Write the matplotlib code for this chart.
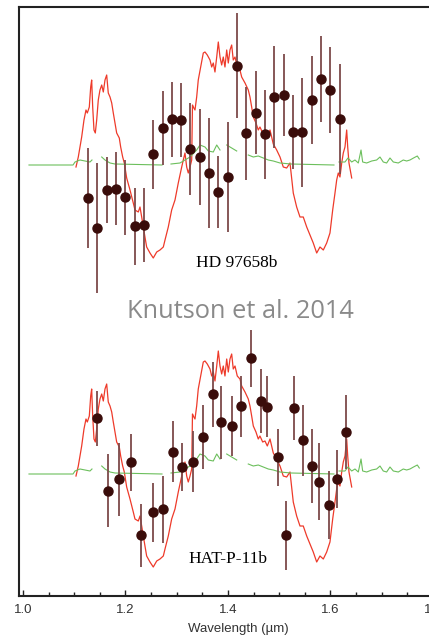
import numpy as np
import matplotlib
matplotlib.use("Agg")
import matplotlib.pyplot as plt
from matplotlib.ticker import MultipleLocator

# Model transmission spectrum (relative depth, arbitrary units) shared by both planets
model_wl = [1.1034, 1.1079, 1.1145, 1.1190, 1.1229, 1.1255, 1.1294, 1.1321, 1.1340, 1.1360,
            1.1385, 1.1411, 1.1438, 1.1469, 1.1502, 1.1536, 1.1567, 1.1600, 1.1633, 1.1664,
            1.1698, 1.1731, 1.1762, 1.1795, 1.1828, 1.1879, 1.1906, 1.1945, 1.1977, 1.2023,
            1.2088, 1.2152, 1.2185, 1.2250, 1.2283, 1.2316, 1.2380, 1.2413, 1.2478, 1.2542,
            1.2609, 1.2673, 1.2738, 1.2771, 1.2835, 1.2901, 1.2966, 1.3030, 1.3097, 1.3128,
            1.3161, 1.3194, 1.3225, 1.3259, 1.3292, 1.3307, 1.3323, 1.3356, 1.3389, 1.3420,
            1.3467, 1.3518, 1.3551, 1.3596, 1.3649, 1.3682, 1.3713, 1.3746, 1.3780, 1.3811,
            1.3844, 1.3877, 1.3908, 1.3941, 1.3975, 1.4006, 1.4039, 1.4072, 1.4103, 1.4137,
            1.4181, 1.4234, 1.4267, 1.4332, 1.4396, 1.4429, 1.4462, 1.4494, 1.4546, 1.4591,
            1.4624, 1.4677, 1.4722, 1.4767, 1.4820, 1.4884, 1.4950, 1.5015, 1.5079, 1.5145,
            1.5210, 1.5274, 1.5340, 1.5405, 1.5469, 1.5536, 1.5600, 1.5664, 1.5731, 1.5795,
            1.5860, 1.5926, 1.5990, 1.6043, 1.6088, 1.6121, 1.6152, 1.6185, 1.6219, 1.6250,
            1.6283, 1.6316, 1.6336, 1.6361, 1.6414]
model_depth = [-2, 8, 28, 45, 55, 52, 58, 78, 85, 58,
               35, 32, 45, 65, 75, 80, 73, 85, 90, 72,
               68, 62, 52, 42, 32, 27, 18, 8, 2, -13,
               -25, -38, -45, -47, -42, -52, -72, -82, -88, -93,
               -87, -85, -82, -75, -62, -45, -35, -18, -2, 5,
               12, -2, -8, -2, 5, 60, 58, 55, 68, 85,
               98, 112, 113, 110, 105, 98, 102, 93, 108, 123,
               108, 100, 108, 98, 115, 102, 115, 120, 105, 108,
               98, 95, 88, 82, 75, 68, 58, 48, 42, 35,
               38, 32, 33, 28, 35, 21, 15, 8, -2, -3,
               2, -28, -42, -52, -52, -62, -70, -78, -88, -82,
               -85, -78, -68, -45, -28, -15, -8, -12, 2, 12,
               18, 35, 18, 2, -13]

# Stellar reference spectrum (gaps where the trace breaks)
star_wl = [1.0117, 1.0976, 1.1015, 1.1112, 1.1210, 1.1307, 1.1346, 1.1370,
           1.1536, 1.1600, 1.1698, 1.1795, 1.2712, 1.2800,
           1.2888, 1.3063, 1.3161, 1.3259, 1.3389, 1.3454, 1.3551, 1.3616, 1.3713,
           1.3780, 1.3844, 1.3900,
           1.3975, 1.4072, 1.4170, 1.4280,
           1.4396, 1.4494, 1.4591, 1.4689, 1.4786, 1.4884, 1.5015, 1.5229, 1.6068, 1.6120,
           1.6166, 1.6283, 1.6341, 1.6414, 1.6478, 1.6543, 1.6596, 1.6628, 1.6706,
           1.6804, 1.6901, 1.6966, 1.7030, 1.7096, 1.7161, 1.7226, 1.7323, 1.7420,
           1.7486, 1.7551, 1.7620, 1.7694, 1.7733]
star_depth = [0, 0, 3, 5, 4, 3, 5, np.nan,
              8, 5, 2, 1, 0, np.nan,
              1, 2, 5, 8, 15, 20, 18, 14, 13,
              20, 15, np.nan,
              20, 17, 14, np.nan,
              10, 8, 9, 7, 5, 4, 2, 1, 0, np.nan,
              3, 3, 7, 3, 5, 2, 15, 3, 2,
              4, 5, 8, 3, 2, 7, 3, 2, 5,
              4, 5, 7, 9, 6]

# HD 97658b measured spectrum
hd_wl = [1.1274, 1.1450, 1.1633, 1.1815, 1.1996, 1.2180, 1.2360, 1.2530, 1.2730, 1.2910,
         1.3090, 1.3260, 1.3450, 1.3630, 1.3810, 1.4000, 1.4180, 1.4360, 1.4540, 1.4720,
         1.4900, 1.5090, 1.5270, 1.5450, 1.5630, 1.5810, 1.6000, 1.6185]
hd_depth = [-32.7, -63, -25, -23.7, -32.3, -61, -60, 10.7, 36.7, 45.7,
            45, 15.7, 8.3, -8.3, -27.3, -11.7, 99.3, 31.7, 52.3, 30.7,
            68.3, 70, 33.3, 32.7, 65, 85.7, 75, 46]
hd_err = [50, 65, 33, 36.5, 37.5, 38.5, 37, 34.5, 37, 37.5,
          37, 46, 48, 55, 36, 55, 52.5, 46.5, 41.5, 44.5,
          51, 41, 37, 54.5, 44, 43, 43, 55]

# HAT-P-11b measured spectrum
hat_wl = [1.1438, 1.1664, 1.1873, 1.2101, 1.2308, 1.2531, 1.2726, 1.2921, 1.3097, 1.3323,
          1.3512, 1.3717, 1.3869, 1.4084, 1.4248, 1.4455, 1.4638, 1.4767, 1.4976, 1.5126,
          1.5288, 1.5463, 1.5633, 1.5782, 1.5971, 1.6121, 1.6297]
hat_depth = [55.7, -16.7, -5.3, 11.7, -61, -38.3, -35.3, 22.3, 6.7, 12.3,
             36.7, 80, 51.7, 48, 68, 115.7, 73.3, 67.3, 16.7, -61,
             65.7, 34, 8.3, -7.7, -31, -5, 41.7]
hat_err = [27.5, 36.5, 36.5, 28.5, 31.5, 29.5, 33.5, 30.5, 24, 30.5,
           32, 32.5, 36.5, 30, 30.5, 28.5, 32, 30.5, 28.5, 34.5,
           32, 35.5, 37, 38.5, 34, 29, 37]

panel_offset = 309  # vertical shift of the HD 97658b spectrum

model_wl = np.array(model_wl)
model_depth = np.array(model_depth, dtype=float)
star_wl = np.array(star_wl)
star_depth = np.array(star_depth, dtype=float)

fig = plt.figure(figsize=(4.29, 6.36), dpi=100)
ax = fig.add_axes([19 / 429, 40 / 636, 439.6 / 429, 589 / 636])

red = "#ee3a2a"
green = "#6cbf5c"
dot = "#3a0c0a"
bar = "#7d4a4a"

for off in (panel_offset, 0):
    ax.plot(model_wl, model_depth + off, color=red, lw=0.9, zorder=2)
    ax.plot(star_wl, star_depth + off, color=green, lw=0.8, zorder=2)

ax.errorbar(hd_wl, np.array(hd_depth) + panel_offset, yerr=hd_err, fmt="o",
            ms=6.5, color=dot, ecolor=bar, elinewidth=1.3, capsize=0, zorder=3)
ax.errorbar(hat_wl, hat_depth, yerr=hat_err, fmt="o",
            ms=6.5, color=dot, ecolor=bar, elinewidth=1.3, capsize=0, zorder=3)

ax.text(1.4176, -98 + panel_offset, "HD 97658b", family="Liberation Serif",
        fontsize=12.5, ha="center", va="center", color="black")
ax.text(1.399, -85, "HAT-P-11b", family="Liberation Serif",
        fontsize=12.5, ha="center", va="center", color="black")
ax.text(1.4244, 163, "Knutson et al. 2014", family="Open Sans",
        fontsize=18.3, ha="center", va="center", color="#8a8a8a")

ax.set_xlim(0.9922, 1.85)
ax.set_ylim(-122, 467)
ax.xaxis.set_major_locator(MultipleLocator(0.2))
ax.xaxis.set_minor_locator(MultipleLocator(0.05))
ax.xaxis.set_major_formatter(matplotlib.ticker.FormatStrFormatter("%.1f"))
ax.tick_params(axis="x", which="both", direction="in", top=False, colors="#222222",
               labelcolor="#333333", labelsize=9.5, pad=6)
ax.tick_params(axis="x", which="major", length=4, width=1)
ax.tick_params(axis="x", which="minor", length=3, width=1)
ax.set_yticks([])
for lbl in ax.get_xticklabels():
    lbl.set_family("Liberation Sans")
ax.set_xlabel("Wavelength (\u00b5m)", family="Liberation Sans", fontsize=9.5,
              color="#333333", labelpad=5)
for side in ("left", "bottom", "top"):
    ax.spines[side].set_linewidth(1.5)
    ax.spines[side].set_color("#222222")

fig.savefig("out.png", dpi=100)
